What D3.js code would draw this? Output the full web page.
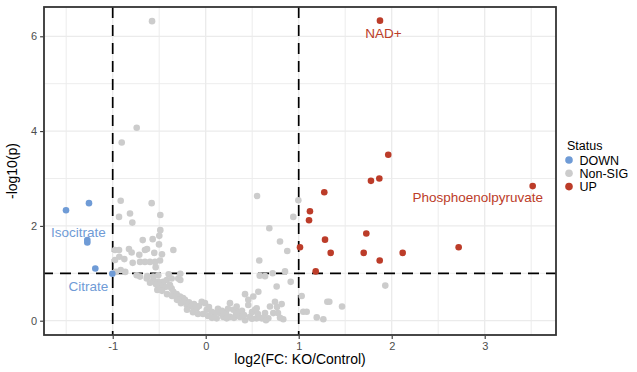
<!DOCTYPE html>
<html>
<head>
<meta charset="utf-8">
<script src="https://cdn.jsdelivr.net/npm/d3@7"></script>
<style>
  html, body { margin: 0; padding: 0; background: #fff; }
  svg { display: block; font-family: "Liberation Sans", Arial, Helvetica, sans-serif; }
</style>
</head>
<body>
<svg id="chart" width="637" height="372"></svg>
<script>
// ---- data: [log2(FC), -log10(p)] ----
const downPoints = [
  [-1.502, 2.33], [-1.255, 2.48], [-1.273, 1.70], [-1.273, 1.65],
  [-1.187, 1.10], [-1.004, 0.99]
];
const upPoints = [
  [1.874, 6.33], [1.963, 3.50], [1.777, 2.95], [1.867, 3.00], [3.516, 2.84],
  [1.275, 2.71], [1.121, 2.31], [1.111, 2.12], [1.727, 1.84], [1.283, 1.71],
  [1.014, 1.55], [1.344, 1.43], [1.699, 1.43], [2.118, 1.43], [2.720, 1.55],
  [1.871, 1.27], [1.183, 1.04]
];
const nonsigPoints = [
  [-0.577, 6.32], [-0.742, 4.07], [-0.903, 3.76],
  [-0.914, 2.53], [-0.581, 2.48], [-0.932, 2.19], [-0.814, 2.26], [-0.789, 2.07],
  [-0.488, 2.23], [-0.488, 1.91], [-0.499, 1.79], [-0.570, 1.72], [-0.677, 1.70],
  [-0.502, 1.61], [-0.975, 1.49], [-0.932, 1.49], [-0.825, 1.51], [-0.796, 1.44],
  [-0.653, 1.49], [-0.631, 1.51], [-0.553, 1.43], [-0.470, 1.40], [-0.348, 1.49],
  [-0.975, 1.28], [-0.929, 1.35], [-0.875, 1.30], [-0.785, 1.22], [-0.706, 1.24],
  [-0.653, 1.24], [-0.599, 1.24], [-0.545, 1.24], [-0.491, 1.27], [-0.714, 1.39],
  [-0.538, 1.13], [-0.865, 1.03], [-0.965, 1.03], [-0.914, 1.07],
  [-0.706, 0.93], [-0.634, 0.89], [-0.628, 0.94], [-0.563, 0.86], [-0.510, 0.82],
  [-0.456, 0.82], [-0.419, 0.86], [-0.398, 0.98], [-0.273, 0.99], [-0.295, 0.89],
  [-0.273, 0.86], [-0.491, 0.75], [-0.438, 0.71], [-0.520, 0.65], [-0.366, 0.68],
  [-0.348, 0.61], [-0.312, 0.56], [-0.276, 0.51], [-0.244, 0.48], [-0.223, 0.44],
  [-0.204, 0.33], [-0.180, 0.39], [-0.151, 0.30], [-0.126, 0.35], [-0.097, 0.26],
  [-0.072, 0.31], [-0.043, 0.40], [-0.008, 0.37], [0.011, 0.23], [0.035, 0.29],
  [0.065, 0.19], [0.100, 0.16], [0.132, 0.25], [0.154, 0.16], [0.118, 0.05],
  [0.189, 0.08], [0.226, 0.05], [0.261, 0.08], [0.297, 0.23], [0.261, 0.37],
  [0.333, 0.30], [0.351, 0.19], [0.369, 0.08], [0.423, 0.01], [0.423, 0.56],
  [0.458, 0.33], [0.498, 0.18], [0.530, 0.23], [0.548, 0.05], [0.602, 0.05],
  [0.638, 0.16], [0.673, 0.05], [0.727, 0.16], [0.691, 0.30], [0.745, 0.40],
  [0.763, 0.72], [0.566, 0.61], [0.576, 1.27], [0.552, 2.63], [0.684, 1.95],
  [0.799, 1.67], [0.877, 1.47], [0.942, 2.19], [0.996, 2.54], [0.581, 0.95],
  [0.638, 0.94], [0.720, 1.00], [0.853, 1.04], [0.914, 0.82], [1.032, 0.52],
  [1.049, 0.19], [1.086, 0.19], [1.194, 0.07], [1.265, 0.03], [1.308, 0.40],
  [1.329, 0.40], [1.466, 0.30], [1.931, 0.74], [0.834, 0.03], [0.817, 0.35],
  [-0.029, 0.14], [0.025, 0.10], [0.068, 0.06], [0.175, 0.21], [0.218, 0.16],
  [0.240, 0.25], [0.304, 0.06], [0.326, 0.14], [0.390, 0.21], [0.412, 0.12],
  [0.476, 0.08], [0.498, 0.04], [0.562, 0.14], [0.616, 0.06], [0.648, 0.01],
  [0.777, 0.16], [0.799, 0.06], [0.767, 0.29], [0.512, 0.51], [0.458, 0.44],
  [0.548, 0.26], [-0.742, 0.96], [-0.599, 0.80], [-0.534, 0.77], [-0.384, 0.75],
  [-0.470, 0.63], [-0.416, 0.56], [-0.362, 0.52], [-0.309, 0.44], [-0.266, 0.37],
  [-0.201, 0.23], [-0.137, 0.18], [-0.083, 0.14], [-0.563, 0.93], [-0.510, 0.96],
  [-0.366, 0.89], [-0.402, 0.72]
];
// labelled metabolites: [name, index into series]
const labelsDown = [["Isocitrate", 2], ["Citrate", 5]];
const labelsUp = [["NAD+", 0], ["Phosphoenolpyruvate", 4]];
const statusNames = ["DOWN", "Non-SIG", "UP"];
const xTicks = [-1, 0, 1, 2, 3];
const yTicks = [0, 2, 4, 6];
const fcCut = [-1, 1];
const pCut = 1;

// ---- layout ----
const colors = { "DOWN": "#6f9bd6", "Non-SIG": "#cccccc", "UP": "#bc3c29" };
const P = { left: 44, right: 556, top: 7, bottom: 335 };
const svg = d3.select("#chart");
const x = d3.scaleLinear().domain([-1.7387, 3.7667]).range([P.left, P.right]);
const y = d3.scaleLinear().domain([-0.3017, 6.618]).range([P.bottom, P.top]);

// grid
const g = svg.append("g");
const xMinor = d3.range(-1.5, 3.6, 1);
const yMinor = d3.range(1, 6.6, 2);
g.selectAll(".gxm").data(xMinor).enter().append("line")
  .attr("x1", d => x(d)).attr("x2", d => x(d)).attr("y1", P.top).attr("y2", P.bottom)
  .attr("stroke", "#ebebeb").attr("stroke-width", 0.9);
g.selectAll(".gym").data(yMinor).enter().append("line")
  .attr("y1", d => y(d)).attr("y2", d => y(d)).attr("x1", P.left).attr("x2", P.right)
  .attr("stroke", "#ebebeb").attr("stroke-width", 0.9);
g.selectAll(".gx").data(xTicks).enter().append("line")
  .attr("x1", d => x(d)).attr("x2", d => x(d)).attr("y1", P.top).attr("y2", P.bottom)
  .attr("stroke", "#ebebeb").attr("stroke-width", 1.3);
g.selectAll(".gy").data(yTicks).enter().append("line")
  .attr("y1", d => y(d)).attr("y2", d => y(d)).attr("x1", P.left).attr("x2", P.right)
  .attr("stroke", "#ebebeb").attr("stroke-width", 1.3);

// threshold lines
const dash = "11,7";
g.selectAll(".vc").data(fcCut).enter().append("line")
  .attr("x1", d => x(d)).attr("x2", d => x(d)).attr("y1", P.top).attr("y2", P.bottom)
  .attr("stroke", "#000").attr("stroke-width", 1.7).attr("stroke-dasharray", dash);
g.append("line")
  .attr("x1", P.left).attr("x2", P.right).attr("y1", y(pCut)).attr("y2", y(pCut))
  .attr("stroke", "#000").attr("stroke-width", 1.7).attr("stroke-dasharray", dash)
  .attr("stroke-dashoffset", 2);

// points
function drawPts(data, status) {
  g.append("g").selectAll("circle").data(data).enter().append("circle")
    .attr("cx", d => x(d[0])).attr("cy", d => y(d[1])).attr("r", 3.3)
    .attr("fill", colors[status]);
}
drawPts(nonsigPoints, "Non-SIG");
drawPts(downPoints, "DOWN");
drawPts(upPoints, "UP");

// labels
function drawLabel(pt, name, color, dx, dy) {
  svg.append("text").attr("x", x(pt[0]) + dx).attr("y", y(pt[1]) + dy)
    .attr("text-anchor", "middle").attr("font-size", 13.5).attr("fill", color).text(name);
}
drawLabel(downPoints[labelsDown[0][1]], labelsDown[0][0], colors["DOWN"], -9, -3.5);
drawLabel(downPoints[labelsDown[1][1]], labelsDown[1][0], colors["DOWN"], -24, 17);
drawLabel(upPoints[labelsUp[0][1]], labelsUp[0][0], colors["UP"], 3.5, 17.5);
drawLabel(upPoints[labelsUp[1][1]], labelsUp[1][0], colors["UP"], -55, 16);

// panel border
svg.append("rect").attr("x", P.left).attr("y", P.top)
  .attr("width", P.right - P.left).attr("height", P.bottom - P.top)
  .attr("fill", "none").attr("stroke", "#333").attr("stroke-width", 1.8);

// axes
const xAxis = svg.append("g").attr("transform", `translate(0,${P.bottom + 0.9})`)
  .call(d3.axisBottom(x).tickValues(xTicks).tickSize(3).tickPadding(3).tickFormat(d3.format("d")));
const yAxis = svg.append("g").attr("transform", `translate(${P.left - 0.9},0)`)
  .call(d3.axisLeft(y).tickValues(yTicks).tickSize(3).tickPadding(3).tickFormat(d3.format("d")));
[xAxis, yAxis].forEach(a => {
  a.select(".domain").remove();
  a.selectAll(".tick line").attr("stroke", "#333").attr("stroke-width", 1.1);
  a.selectAll(".tick text").attr("fill", "#4d4d4d").attr("font-size", 11)
    .attr("font-family", "Liberation Sans, Arial, sans-serif");
});
xAxis.selectAll(".tick text").text(d => d < 0 ? "-" + Math.abs(d) : d);

// axis titles
svg.append("text").attr("x", (P.left + P.right) / 2).attr("y", 364)
  .attr("text-anchor", "middle").attr("font-size", 14).attr("fill", "#000")
  .text("log2(FC: KO/Control)");
svg.append("text").attr("transform", `translate(17,${(P.top + P.bottom) / 2}) rotate(-90)`)
  .attr("text-anchor", "middle").attr("font-size", 14).attr("fill", "#000")
  .text("-log10(p)");

// legend
const lg = svg.append("g").attr("transform", "translate(567,0)");
lg.append("text").attr("x", 0).attr("y", 150).attr("font-size", 12.5).attr("fill", "#000").text("Status");
statusNames.forEach((s, i) => {
  const cy = 160 + i * 13.3;
  lg.append("circle").attr("cx", 2).attr("cy", cy).attr("r", 3.8).attr("fill", colors[s]);
  lg.append("text").attr("x", 12.5).attr("y", cy + 4.5).attr("font-size", 12.5).attr("fill", "#000").text(s);
});
</script>
</body>
</html>
